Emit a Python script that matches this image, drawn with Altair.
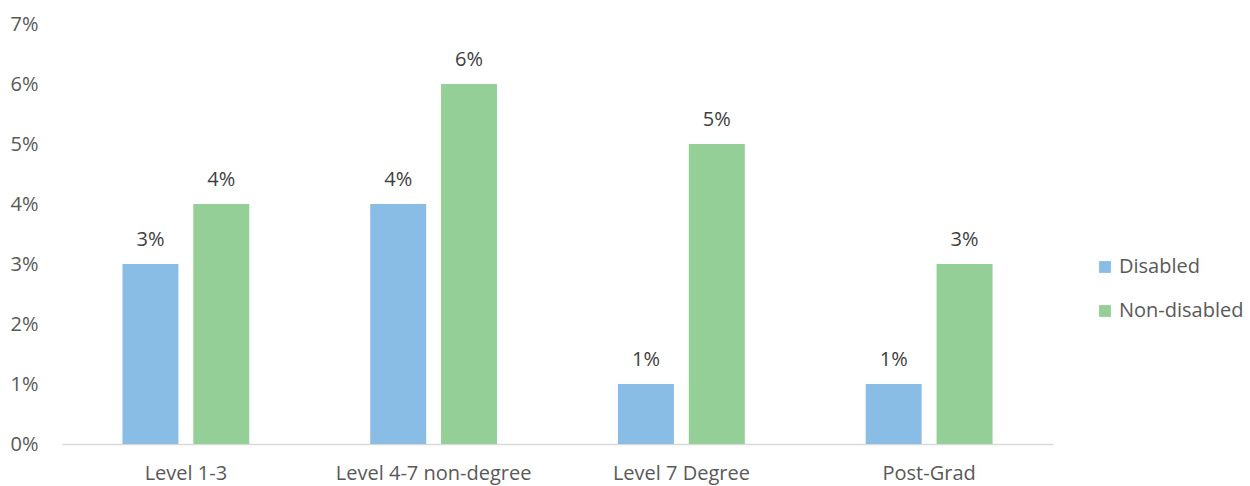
import altair as alt
import pandas as pd

categories = ["Level 1-3", "Level 4-7 non-degree", "Level 7 Degree", "Post-Grad"]
disabled = [0.03, 0.04, 0.01, 0.01]
non_disabled = [0.04, 0.06, 0.05, 0.03]
groups = ["Disabled", "Non-disabled"]
colors = ["#8ABDE6", "#93CF96"]

rows = []
for c, d, n in zip(categories, disabled, non_disabled):
    rows.append({"cat": c, "group": groups[0], "value": d})
    rows.append({"cat": c, "group": groups[1], "value": n})
df = pd.DataFrame(rows)

FONT = "Open Sans"
FS = 20

x = alt.X("cat:N", sort=categories, title=None,
          scale=alt.Scale(paddingInner=0.488, paddingOuter=0.244),
          axis=alt.Axis(labelAngle=0, labelFontSize=FS, labelColor="#595959",
                        labelFont=FONT, ticks=False, domainColor="#D9D9D9",
                        domainWidth=1.5, labelPadding=19, labelLimit=400))
xo = alt.XOffset("group:N", sort=groups,
                 scale=alt.Scale(paddingInner=0.21, paddingOuter=0))
y = alt.Y("value:Q", title=None,
          scale=alt.Scale(domain=[0, 0.07], nice=False),
          axis=alt.Axis(format=".0%", values=[0, 0.01, 0.02, 0.03, 0.04, 0.05, 0.06, 0.07],
                        labelFontSize=FS, labelColor="#595959", labelFont=FONT,
                        ticks=False, domain=False, grid=False, labelPadding=24))

bars = alt.Chart(df).mark_bar().encode(
    x=x, xOffset=xo, y=y,
    color=alt.Color("group:N", sort=groups,
                    scale=alt.Scale(domain=groups, range=colors),
                    legend=alt.Legend(title=None, orient="none", legendX=1033, legendY=233,
                                      symbolType="square", symbolSize=140,
                                      labelFontSize=FS, labelColor="#595959", labelFont=FONT,
                                      rowPadding=24, symbolStrokeWidth=0, labelOffset=4,
                                      labelLimit=300)),
)

labels = alt.Chart(df).mark_text(baseline="alphabetic", dy=-18, fontSize=FS,
                                 color="#404040", font=FONT).encode(
    x=alt.X("cat:N", sort=categories), xOffset=alt.XOffset("group:N", sort=groups),
    y="value:Q",
    text=alt.Text("value:Q", format=".0%"),
)

chart = (bars + labels).properties(
    width=991, height=420,
    background="white",
    autosize=alt.AutoSizeParams(type="none"),
    padding={"left": 62, "top": 24, "right": 197, "bottom": 42},
).configure_view(strokeWidth=0, stroke="transparent")

chart.save("out.html", embed_options={"renderer": "svg", "actions": False})
